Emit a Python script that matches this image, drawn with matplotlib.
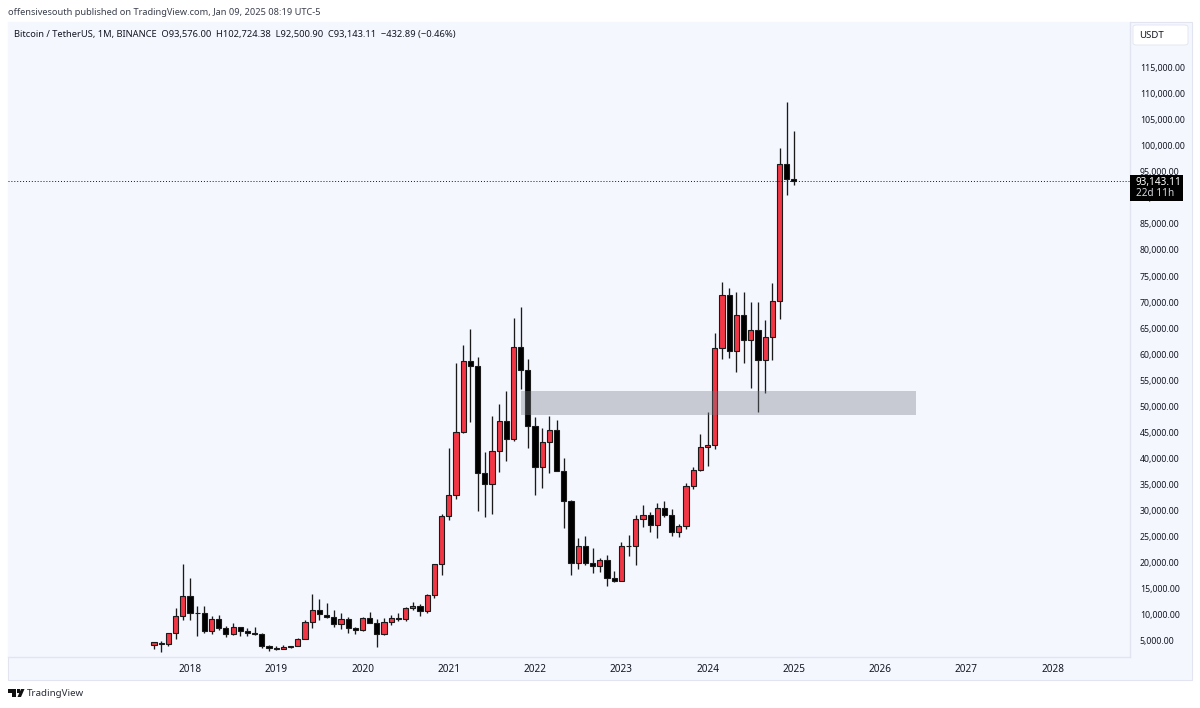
import matplotlib
matplotlib.use("Agg")
import matplotlib.pyplot as plt
from matplotlib.patches import Rectangle, FancyBboxPatch, Polygon, Circle
from matplotlib.ticker import FuncFormatter

plt.rcParams['font.family'] = ['Noto Sans', 'DejaVu Sans']

months = ["2017-08","2017-09","2017-10","2017-11","2017-12",
 "2018-01","2018-02","2018-03","2018-04","2018-05","2018-06","2018-07","2018-08","2018-09","2018-10","2018-11","2018-12",
 "2019-01","2019-02","2019-03","2019-04","2019-05","2019-06","2019-07","2019-08","2019-09","2019-10","2019-11","2019-12",
 "2020-01","2020-02","2020-03","2020-04","2020-05","2020-06","2020-07","2020-08","2020-09","2020-10","2020-11","2020-12",
 "2021-01","2021-02","2021-03","2021-04","2021-05","2021-06","2021-07","2021-08","2021-09","2021-10","2021-11","2021-12",
 "2022-01","2022-02","2022-03","2022-04","2022-05","2022-06","2022-07","2022-08","2022-09","2022-10","2022-11","2022-12",
 "2023-01","2023-02","2023-03","2023-04","2023-05","2023-06","2023-07","2023-08","2023-09","2023-10","2023-11","2023-12",
 "2024-01","2024-02","2024-03","2024-04","2024-05","2024-06","2024-07","2024-08","2024-09","2024-10","2024-11","2024-12",
 "2025-01"]
opens = [4261,4690,4341,6463,9837,
 13715,10285,10325,6922,9246,7485,6391,7725,7011,6626,6369,4041,
 3701,3434,3814,4102,5321,8555,10854,10080,9600,8289,9140,7540,
 7195,9351,8523,6412,8620,9448,9138,11335,11649,10776,13791,19695,
 28923,33092,45134,58739,57697,37254,35045,41462,47100,43820,61300,56950,
 46216,38466,43160,45510,37630,31801,19942,23296,20048,19422,20490,17165,
 16541,23125,23142,28465,29233,27210,30472,29232,25941,26963,34667,37724,
 42283,42580,61130,71280,60672,67540,62772,64628,58974,63327,70292,96408,
 93576]
highs = [4745,4939,6447,11300,19798,
 17176,11786,11710,9759,10020,7786,8450,7750,7410,7680,6586,4312,
 4069,4198,4121,5600,9074,13970,13147,12325,10905,10370,9530,7750,
 9575,10500,9188,9460,10067,10380,11444,12468,12050,14100,19863,29300,
 41950,58352,61844,64854,59500,41330,48168,50500,52920,67000,69000,59053,
 47990,45821,48189,47444,40023,31982,24668,25200,22799,20988,21470,18400,
 23960,25250,29184,31000,29820,31431,31804,30244,27500,35280,38450,44700,
 48969,64000,73777,72797,71979,71997,70079,70000,66498,73620,99588,108353,
 102724]
lows = [3400,2817,4110,5325,9000,
 9035,6000,6600,6430,7032,5750,6070,5880,6000,6200,3652,3156,
 3349,3373,3670,4067,5350,7440,9111,9320,7710,7300,6515,6435,
 6850,8410,3782,6150,8117,8833,8893,11000,9825,10374,13195,17572,
 28130,32296,44900,46930,30000,28805,29278,37332,39600,43283,53256,42000,
 32917,34322,37155,37578,26700,17622,18781,19520,18125,18190,15476,16256,
 16499,21351,19549,26942,25810,24800,28861,25166,24900,26538,34097,37615,
 38555,41884,59005,59191,56552,58402,53485,49000,52550,58946,66835,90500,
 92500]
closes = [4724,4378,6463,9838,13716,
 10285,10326,6923,9246,7485,6391,7725,7011,6626,6371,4041,3702,
 3434,3814,4103,5321,8555,10855,10085,9600,8289,9140,7541,7195,
 9352,8523,6410,8620,9448,9138,11335,11649,10776,13791,19695,28923,
 33092,45135,58788,57694,37253,35045,41461,47100,43824,61300,56950,46216,
 38466,43160,45510,37630,31801,19942,23293,20050,19422,20490,17164,16542,
 23125,23142,28465,29233,27210,30472,29232,25941,26963,34667,37724,42283,
 42580,61130,71280,60672,67540,62772,64628,58974,63327,70292,96408,93576,
 93143]

year_labels = ["2018","2019","2020","2021","2022","2023","2024","2025","2026","2027","2028"]
price_ticks = [5000*i for i in range(1, 24)]
zone_low, zone_high = 48345, 53005
zone_from, zone_to = "2021-11", 106
last_price = 93143.11

W, H = 1200, 708
fig = plt.figure(figsize=(W/100, H/100), dpi=100, facecolor="white")
PANE = "#f5f7ff"
GRID = "#e2e5f0"
TXT = "#131722"

def px(x, y):
    return x/W, 1-y/H

# outer panel
fig.patches.append(Rectangle((8/W, 1-680/H), 1184/W, 658/H, transform=fig.transFigure,
                             facecolor=PANE, edgecolor=GRID, lw=0.8, zorder=-5))

ax = fig.add_axes([8/W, 1-657/H, 1122/W, 635/H], facecolor=PANE, zorder=1)
ax.set_xlim((8-154)/7.19, (1130-154)/7.19)
ax.set_ylim(1931, 123719)

idx = list(range(len(months)))
ups = [c >= o for o, c in zip(opens, closes)]
ax.vlines(idx, lows, highs, color="#1a1a1a", lw=0.95, zorder=2)
ax.bar(idx, [max(abs(c-o), 60) for o, c in zip(opens, closes)], bottom=[min(o, c) for o, c in zip(opens, closes)],
       width=0.72, color=["#f23645" if u else "#000000" for u in ups], edgecolor="#1a1a1a", linewidth=0.8, zorder=3)

ax.add_patch(Rectangle((months.index(zone_from), zone_low), zone_to-months.index(zone_from), zone_high-zone_low,
                       facecolor="#787b86", edgecolor="none", alpha=0.36, zorder=4))
ax.axhline(last_price, color="#131722", lw=0.7, ls=(0, (1, 2)), zorder=5)

ax.yaxis.tick_right()
ax.set_yticks(price_ticks)
ax.yaxis.set_major_formatter(FuncFormatter(lambda v, _: f"{v:,.2f}"))
ax.tick_params(axis="y", length=0, pad=7, labelsize=6.3, labelcolor=TXT)
ax.set_xticks([5+12*i for i in range(len(year_labels))])
ax.set_xticklabels(year_labels)
ax.tick_params(axis="x", length=0, pad=5, labelsize=7.2, labelcolor=TXT)
for s in ["top", "left"]:
    ax.spines[s].set_visible(False)
for s in ["bottom", "right"]:
    ax.spines[s].set_color(GRID)
    ax.spines[s].set_linewidth(1.0)

# last price tag
fig.patches.append(Rectangle((1130/W, 1-201/H), 53/W, 26/H, transform=fig.transFigure,
                             facecolor="black", edgecolor="none", zorder=6))
fig.text(*px(1136, 182), f"{last_price:,.2f}", color="white", fontsize=7.2, va="center", ha="left", zorder=7)
fig.text(*px(1136, 194), "22d 11h", color="#d6d8de", fontsize=7.2, va="center", ha="left", zorder=7)

# currency button
fig.patches.append(FancyBboxPatch((1133/W, 1-45/H), 55/W, 20/H, transform=fig.transFigure,
                                  boxstyle="round,pad=0,rounding_size=0.003", facecolor="white",
                                  edgecolor="#e4e7f0", lw=0.7, zorder=6))
fig.text(*px(1139.5, 36), "USDT", color=TXT, fontsize=6.9, va="center", ha="left", zorder=7)

# header and legend
fig.text(*px(8, 12.5), "offensivesouth published on TradingView.com, Jan 09, 2025 08:19 UTC-5",
         color="#3a3f4c", fontsize=6.63, va="center", ha="left")
fig.text(*px(14, 34), "Bitcoin / TetherUS, 1M, BINANCE  O93,576.00  H102,724.38  L92,500.90  C93,143.11  \u2212432.89 (\u22120.46%)",
         color=TXT, fontsize=6.73, va="center", ha="left", zorder=7)

# footer logo
t = fig.transFigure
for pts in ([(8, 689), (16, 689), (16, 697), (12, 697), (12, 692.5), (8, 692.5)],
            [(17.5, 697), (21, 689), (24.5, 689), (21, 697)]):
    fig.patches.append(Polygon([px(a, b) for a, b in pts], closed=True, transform=t, facecolor="#111", edgecolor="none"))
fig.patches.append(Rectangle((16.5/W, 1-692.5/H), 3/W, 3.5/H, transform=t, facecolor="#111", edgecolor="none"))
fig.text(*px(27, 694), "TradingView", color="#2a2e39", fontsize=7, va="center", ha="left")

fig.savefig("out.png", dpi=100, facecolor="white")
